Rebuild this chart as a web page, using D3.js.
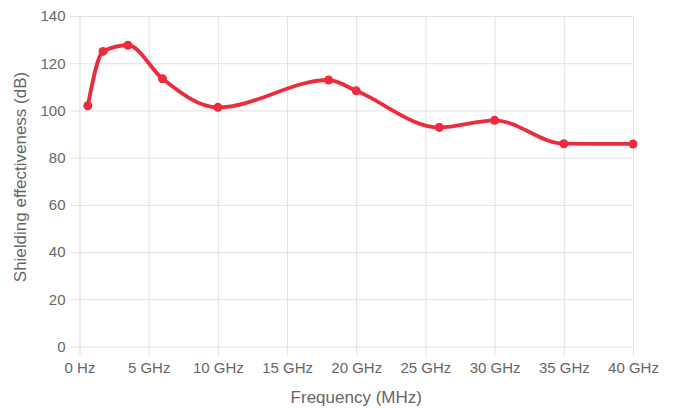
<!DOCTYPE html>
<html>
<head>
<meta charset="utf-8">
<script src="https://cdn.jsdelivr.net/npm/d3@7"></script>
<style>
  body { margin: 0; background: #fff; }
  svg { display: block; font-family: "Liberation Sans", Arial, sans-serif; }
</style>
</head>
<body>
<svg></svg>
<script>
const width = 675;
const height = 409;

// frequency in GHz, shielding effectiveness in dB
const freqGHz = [0.6, 1.7, 3.5, 6, 10, 18, 20, 26, 30, 35, 40];
const shielding = [102, 125, 127.6, 113.4, 101.3, 112.9, 108.3, 92.8, 95.8, 85.9, 85.8];
const xTicks = [0, 5, 10, 15, 20, 25, 30, 35, 40];
const yTicks = [0, 20, 40, 60, 80, 100, 120, 140];

const margin = { top: 16, right: 42, bottom: 62.5, left: 79.5 };

const svg = d3.select("svg")
  .attr("width", width)
  .attr("height", height);

const x = d3.scaleLinear().domain([0, 40]).range([margin.left, width - margin.right]);
const y = d3.scaleLinear().domain([0, 140]).range([height - margin.bottom, margin.top]);

const gridColor = "#e1e1e1";
const textColor = "#666";

// vertical grid + x ticks
const xAxis = svg.append("g")
  .attr("transform", `translate(0,${y(0)})`)
  .call(d3.axisBottom(x)
    .tickValues(xTicks)
    .tickSize(-(y(0) - y(140)))
    .tickPadding(12)
    .tickFormat(d => d === 0 ? "0 Hz" : d + " GHz"));
xAxis.select(".domain").remove();
xAxis.selectAll("line").attr("stroke", gridColor).attr("y2", -(y(0) - y(140))).attr("y1", 9);
xAxis.selectAll("text").attr("fill", textColor).attr("font-size", 15).attr("dy", "0.71em").attr("y", 16);

// horizontal grid + y ticks
const yAxis = svg.append("g")
  .attr("transform", `translate(${x(0)},0)`)
  .call(d3.axisLeft(y)
    .tickValues(yTicks)
    .tickSize(-(x(40) - x(0)))
    .tickPadding(14));
yAxis.select(".domain").remove();
yAxis.selectAll("line").attr("stroke", gridColor).attr("x1", -9);
yAxis.selectAll("text").attr("fill", textColor).attr("font-size", 15).attr("x", -14);

// axis titles
svg.append("text")
  .attr("x", (x(0) + x(40)) / 2)
  .attr("y", 403)
  .attr("text-anchor", "middle")
  .attr("font-size", 17)
  .attr("fill", textColor)
  .text("Frequency (MHz)");

svg.append("text")
  .attr("transform", `translate(26,177) rotate(-90)`)
  .attr("text-anchor", "middle")
  .attr("font-size", 17)
  .attr("fill", textColor)
  .text("Shielding effectiveness (dB)");

const points = freqGHz.map((f, i) => ({ f, v: shielding[i] }));
const red = "#ec2b3c";

const line = d3.line()
  .x(d => x(d.f))
  .y(d => y(d.v))
  .curve(d3.curveMonotoneX);

svg.append("path")
  .datum(points)
  .attr("fill", "none")
  .attr("stroke", red)
  .attr("stroke-width", 3.8)
  .attr("stroke-linejoin", "round")
  .attr("d", line);

svg.selectAll("circle.pt")
  .data(points)
  .enter()
  .append("circle")
  .attr("class", "pt")
  .attr("cx", d => x(d.f))
  .attr("cy", d => y(d.v))
  .attr("r", 4.5)
  .attr("fill", red);
</script>
</body>
</html>
